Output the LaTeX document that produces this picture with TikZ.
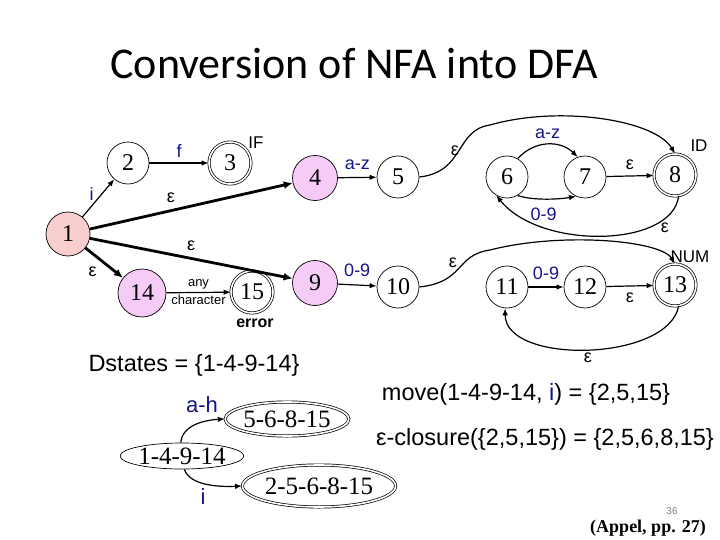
\documentclass[tikz,border=0pt]{standalone}
\usepackage{fontspec}
\setmainfont{Liberation Sans}
\newfontfamily\numfont{Liberation Serif}
\newfontfamily\titlefont{Carlito}
\usetikzlibrary{arrows.meta,shapes.geometric}
\definecolor{lblue}{RGB}{20,20,140}
\definecolor{spink}{RGB}{246,204,246}
\definecolor{rpink}{RGB}{248,206,206}
\tikzset{
  st/.style={circle,draw,line width=0.7pt,minimum size=42pt,inner sep=0pt,font=\numfont\fontsize{24}{24}\selectfont},
  acc/.style={st,double,double distance=1.6pt},
  arr/.style={line width=1.2pt,-{Latex[length=7pt,width=5.5pt]}},
  tarr/.style={line width=2.8pt,-{Latex[length=9pt,width=8pt]}},
  lab/.style={font=\fontsize{18}{18}\selectfont,text=lblue},
  eps/.style={font=\fontsize{18}{18}\selectfont},
  tag/.style={font=\fontsize{17}{17}\selectfont},
  dst/.style={ellipse,draw,line width=0.7pt,inner sep=0pt,font=\numfont\fontsize{25}{25}\selectfont},
  dacc/.style={dst,double,double distance=1.6pt},
  big/.style={font=\fontsize{23.5}{26}\selectfont}
}
\begin{document}
\begin{tikzpicture}[x=1pt,y=-1pt]
\useasboundingbox (0,0) rectangle (720,540);
\node[font=\titlefont\fontsize{44}{44}\selectfont] (title) at (354,64) {Conversion of NFA into DFA};

\node[st,fill=rpink,minimum size=44pt] (n1) at (68,234) {1};
\node[st] (n2) at (128,163) {2};
\node[acc] (n3) at (230,163) {3};
\node[st,fill=spink,minimum size=45pt] (n4) at (315,178) {4};
\node[st,fill=spink,minimum size=48pt] (n14) at (142,293) {14};
\node[acc] (n15) at (252,292) {15};
\node[st,fill=spink,minimum size=45pt] (n9) at (315,283) {9};
\node[st] (n5) at (398,177) {5};
\node[st] (n6) at (507,177) {6};
\node[st] (n7) at (585,177) {7};
\node[acc] (n8) at (675,175) {8};
\node[st] (n10) at (398,287) {10};
\node[st] (n11) at (507,287) {11};
\node[st] (n12) at (585,287) {12};
\node[acc] (n13) at (675,285) {13};

\node[tag] (tIF) at (256,143) {IF};
\node[tag] (tID) at (699,146) {ID};
\node[tag] (tNUM) at (690,257) {NUM};
\node[font=\bfseries\fontsize{16}{16}\selectfont] (terr) at (255,323) {error};

\draw[arr] (n1) -- (n2) node[lab,pos=0.6,left=4pt] {i};
\draw[arr] (n2) -- (n3) node[lab,midway,above=2pt] {f};
\draw[tarr] (n1) -- (n4) node[eps,pos=0.4,above=3pt] {ε};
\draw[tarr] (n1) -- (n9) node[eps,pos=0.5,above=3pt] {ε};
\draw[tarr] (n1) -- (n14) node[eps,pos=0.45,below left=1pt] {ε};
\draw[arr] (n14) -- (n15) node[midway,above=-1pt,font=\fontsize{13}{13}\selectfont] {any}
  node[midway,below=-1pt,font=\fontsize{13}{13}\selectfont] {character};
\draw[arr] (n4) -- (n5) node[lab,midway,above=4pt] {a-z};
\draw[arr] (n9) -- (n10) node[lab,midway,above=4pt] {0-9};
\draw[arr] (n7) -- (n8) node[eps,midway,above=2pt] {ε};
\draw[arr] (n11) -- (n12) node[lab,midway,above=3pt] {0-9};
\draw[arr] (n12) -- (n13) node[eps,midway,below=3pt] {ε};

\draw[arr] (n6.60) .. controls (535,140) and (560,140) .. (n7.110) node[lab,midway,above=2pt] {a-z};
\draw[arr] (n6.-60) .. controls (530,200) and (555,200) .. (n7.-115) node[lab,midway,below=5pt] {0-9};

\coordinate (c5) at (490,125);
\draw[arr] (n5.east) .. controls (465,172) and (455,130) .. (c5)
  .. controls (560,105) and (655,120) .. (n8.north);
\node[eps] (e5) at (455,151) {ε};
\draw[arr] (n8.-80) .. controls (672,248) and (540,250) .. (n6.-120);
\node[eps] (e8) at (665,228) {ε};

\coordinate (c10) at (490,250);
\draw[arr] (n10.east) .. controls (465,282) and (455,255) .. (c10)
  .. controls (560,232) and (660,240) .. (n13.north);
\node[eps] (e10) at (453,263) {ε};
\draw[arr] (n13.-80) .. controls (668,362) and (505,365) .. (n11.-95);
\node[eps] (e13) at (588,358) {ε};

\node[big] (dstates) at (194,365) {Dstates = \{1-4-9-14\}};
\node[dst,minimum width=103pt,minimum height=26pt] (d1) at (182,456) {1-4-9-14};
\node[dacc,minimum width=100pt,minimum height=34pt] (d2) at (287,419) {5-6-8-15};
\node[dacc,minimum width=124pt,minimum height=42pt] (d3) at (319,486) {2-5-6-8-15};
\draw[arr] (d1.95) .. controls (182,425) and (205,420) .. (d2.west);
\node[lab,font=\fontsize{22}{22}\selectfont] (lah) at (202,405) {a-h};
\draw[arr] (d1.-80) .. controls (190,486) and (220,487) .. (d3.west);
\node[lab,font=\fontsize{22}{22}\selectfont] (li) at (203,497) {i};

\node[big] (move) at (526,394) {move(1-4-9-14, \textcolor{lblue}{i}) = \{2,5,15\}};
\node[big] (clos) at (545,439) {ε-closure(\{2,5,15\}) = \{2,5,6,8,15\}};
\node[text=gray,font=\fontsize{10}{10}\selectfont,inner sep=1pt] (pg) at (672,511) {36};
\node[font=\numfont\bfseries\fontsize{18}{18}\selectfont,inner sep=1pt] (appel) at (648,528) {(Appel, pp. 27)};
\end{tikzpicture}
\end{document}
